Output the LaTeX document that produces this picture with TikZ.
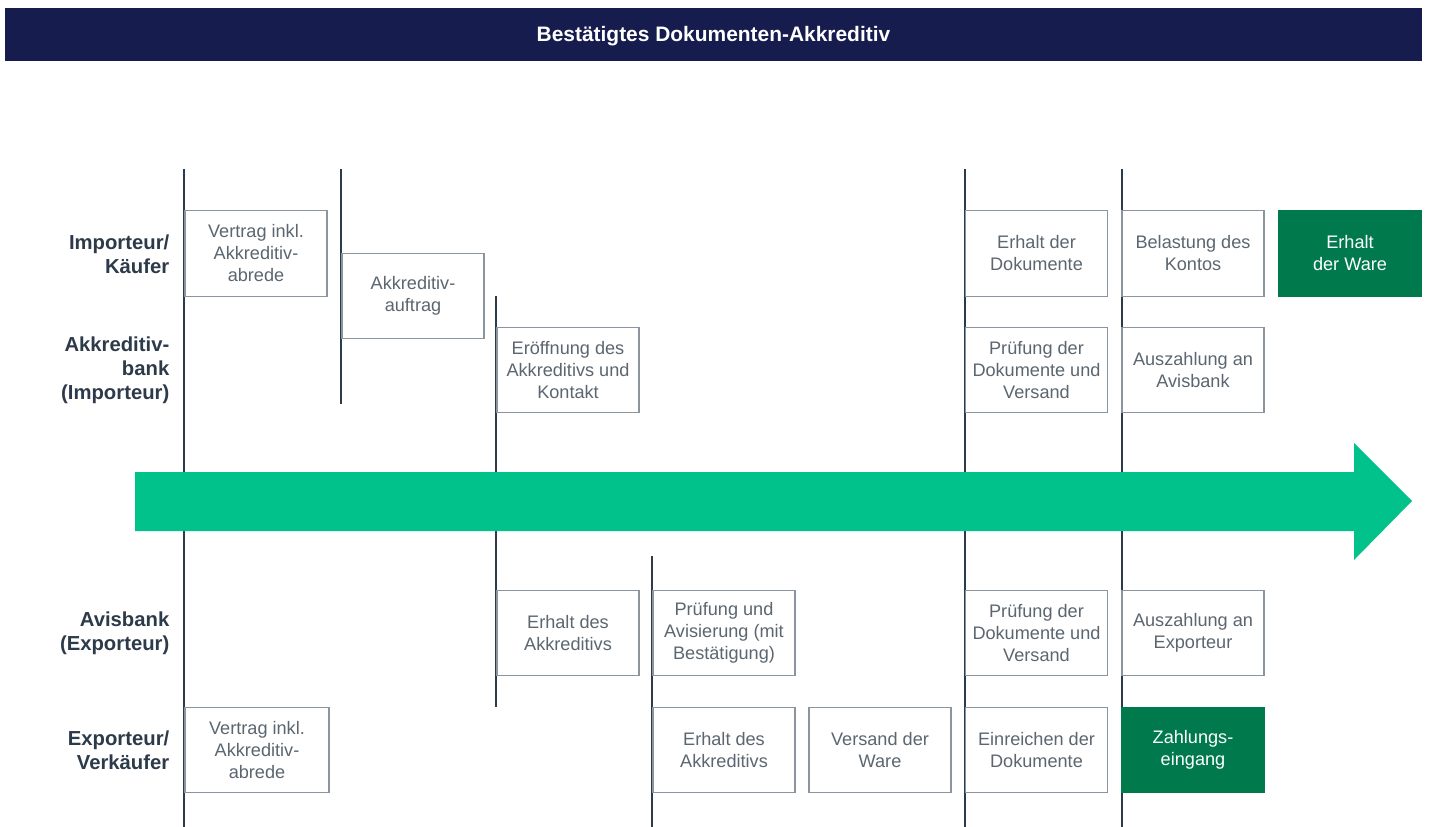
\documentclass[tikz,border=0pt]{standalone}
\usepackage{fontspec}
\setmainfont{Liberation Sans}
\definecolor{navy}{HTML}{161C4E}
\definecolor{linec}{HTML}{2D3A4A}
\definecolor{boxc}{HTML}{8A959F}
\definecolor{txtc}{HTML}{5B6670}
\definecolor{darkgreen}{HTML}{007A4D}
\definecolor{arrowc}{HTML}{00C28A}
\tikzset{
  stepbox/.style={draw=boxc, line width=1pt, fill=white, text=txtc, align=center,
    font=\fontsize{13.6pt}{16.5pt}\selectfont, minimum width=106.5pt, minimum height=64pt, inner sep=0pt},
  greenbox/.style={stepbox, fill=darkgreen, draw=darkgreen, text=white},
  lane/.style={anchor=east, align=right, text=linec, font=\fontsize{15.2pt}{18pt}\selectfont\bfseries},
  tline/.style={draw=linec, line width=1.5pt}
}
\begin{document}
\begin{tikzpicture}[x=0.75pt,y=-0.75pt]
\useasboundingbox (0,0) rectangle (1434,827);
% title
\fill[navy] (5,8) rectangle (1422,61);
\node[text=white, font=\fontsize{15.7pt}{18pt}\selectfont\bfseries] (title) at (713.5,36) {Bestätigtes Dokumenten-Akkreditiv};
% vertical time lines
\draw[tline] (184,169) -- (184,827);
\draw[tline] (341,169) -- (341,404);
\draw[tline] (496,296) -- (496,707);
\draw[tline] (652,556) -- (652,827);
\draw[tline] (965,169) -- (965,827);
\draw[tline] (1122,169) -- (1122,827);
% arrow
\fill[arrowc] (135,472) -- (1354,472) -- (1354,443) -- (1412,501) -- (1354,560) -- (1354,531) -- (135,531) -- cycle;
% lane labels
\node[lane] (l1) at (174,254) {Importeur/\\Käufer};
\node[lane] (l2) at (174,370) {Akkreditiv-\\bank\\(Importeur)};
\node[lane] (l3) at (174,633) {Avisbank\\(Exporteur)};
\node[lane] (l4) at (174,750) {Exporteur/\\Verkäufer};
% row 1
\node[stepbox] (a1) at (256,253.5) {Vertrag inkl.\\Akkreditiv-\\abrede};
\node[stepbox] (a2) at (413,296) {Akkreditiv-\\auftrag};
\node[stepbox] (a6) at (1036.5,253.5) {Erhalt der\\Dokumente};
\node[stepbox] (a7) at (1193,253.5) {Belastung des\\Kontos};
\node[greenbox] (a8) at (1350,253.5) {Erhalt\\der Ware};
% row 2
\node[stepbox] (b3) at (568,370) {Eröffnung des\\Akkreditivs und\\Kontakt};
\node[stepbox] (b6) at (1036.5,370) {Prüfung der\\Dokumente und\\Versand};
\node[stepbox] (b7) at (1193,370) {Auszahlung an\\Avisbank};
% row 3
\node[stepbox] (c3) at (568,633) {Erhalt des\\Akkreditivs};
\node[stepbox] (c4) at (724,633) {Prüfung und\\Avisierung (mit\\Bestätigung)};
\node[stepbox] (c6) at (1036.5,633) {Prüfung der\\Dokumente und\\Versand};
\node[stepbox] (c7) at (1193,633) {Auszahlung an\\Exporteur};
% row 4
\node[stepbox, minimum width=108pt] (d1) at (257,750) {Vertrag inkl.\\Akkreditiv-\\abrede};
\node[stepbox] (d4) at (724,750) {Erhalt des\\Akkreditivs};
\node[stepbox] (d5) at (880,750) {Versand der\\Ware};
\node[stepbox] (d6) at (1036.5,750) {Einreichen der\\Dokumente};
\node[greenbox] (d7) at (1193,750) {Zahlungs-\\eingang};
\end{tikzpicture}
\end{document}
